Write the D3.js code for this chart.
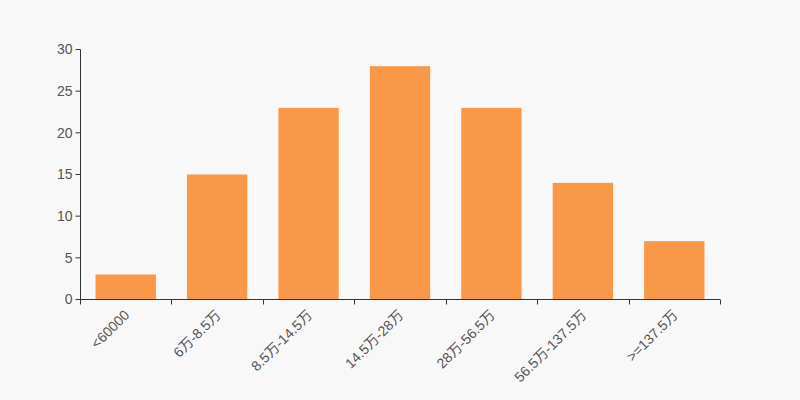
<!DOCTYPE html>
<html><head><meta charset="utf-8">
<script src="https://cdn.jsdelivr.net/npm/d3@7"></script>
<style>html,body{margin:0;padding:0;background:#f8f8f8;}svg{display:block;}</style>
</head><body>
<svg id="c" width="800" height="400"></svg>
<script>
const categories = ["<60000","6万-8.5万","8.5万-14.5万","14.5万-28万","28万-56.5万","56.5万-137.5万",">=137.5万"];
const values = [3,15,23,28,23,14,7];
const yTicks = [0,5,10,15,20,25,30];

const svg = d3.select("#c");
svg.append("rect").attr("width",800).attr("height",400).attr("fill","#f8f8f8");
const font = "Arial, 'Liberation Sans', 'Noto Sans CJK SC', sans-serif";
const x = d3.scaleBand().domain(categories).range([80,720]).paddingInner(0.34).paddingOuter(0.17);
const xb = d3.scaleBand().domain(categories).range([80,720]);
const y = d3.scaleLinear().domain([0,30]).range([299.5,49.5]);

svg.append("g").selectAll("rect").data(values).join("rect")
  .attr("x",(d,i)=>x(categories[i]))
  .attr("width",x.bandwidth())
  .attr("y",d=>y(d))
  .attr("height",d=>y(0)-y(d))
  .attr("fill","#f89848");

// y axis
const ya = svg.append("g").attr("transform","translate(80.5,0)");
ya.append("line").attr("y1",y(30)).attr("y2",y(0)).attr("stroke","#333");
ya.selectAll("line.t").data(yTicks).join("line").attr("class","t")
  .attr("x1",-5).attr("x2",0).attr("y1",d=>y(d)).attr("y2",d=>y(d)).attr("stroke","#333");
ya.selectAll("text").data(yTicks).join("text")
  .attr("x",-8).attr("y",d=>y(d)).attr("dy","0.35em")
  .attr("text-anchor","end").attr("font-size",14).attr("font-family",font).attr("fill","#555")
  .text(d=>d);

// x axis
const xa = svg.append("g");
xa.append("line").attr("x1",80).attr("x2",720).attr("y1",y(0)).attr("y2",y(0)).attr("stroke","#333");
const bounds = categories.map(c=>xb(c)).concat([720]);
xa.selectAll("line.t").data(bounds).join("line").attr("class","t")
  .attr("x1",d=>Math.round(d)+0.5).attr("x2",d=>Math.round(d)+0.5)
  .attr("y1",y(0)).attr("y2",y(0)+5).attr("stroke","#333");
xa.selectAll("text").data(categories).join("text")
  .attr("transform",c=>`translate(${xb(c)+xb.bandwidth()/2+1},${y(0)+13}) rotate(-45)`)
  .attr("text-anchor","end").attr("dy","0.35em")
  .attr("font-size",14).attr("font-family",font).attr("fill","#555")
  .text(c=>c);
</script>
</body></html>
